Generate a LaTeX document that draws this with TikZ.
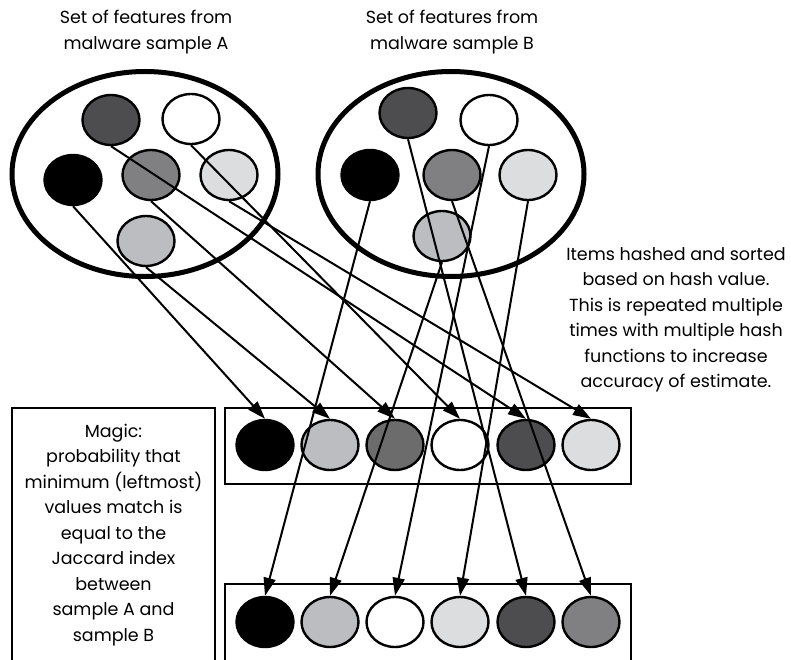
\documentclass[tikz,border=0pt]{standalone}
\usepackage{fontspec}
\setmainfont{Poppins}
\definecolor{darkgrey}{HTML}{4D4D4F}
\definecolor{midgrey}{HTML}{808083}
\definecolor{midshade}{HTML}{6B6C6B}
\definecolor{silvergrey}{HTML}{BCBDC0}
\definecolor{lightgrey}{HTML}{DCDDDF}
\usetikzlibrary{arrows.meta, shapes.geometric}

\begin{document}
\begin{tikzpicture}[x=1pt, y=-1pt, >={Triangle[length=18pt, width=12pt]},
  sample/.style={draw, ellipse, line width=5pt, inner sep=0pt, minimum width=266pt, minimum height=205pt},
  feature/.style={draw, ellipse, line width=2.4pt, inner sep=0pt, minimum width=57pt, minimum height=50pt},
  hashrow/.style={draw, line width=2.4pt, inner sep=0pt},
  note/.style={align=center, inner sep=0pt, font=\fontsize{17.5}{25.5}\selectfont},
  hashline/.style={->, line width=2pt}]
  \useasboundingbox (0,0) rectangle (791,660);
  \clip (0,0) rectangle (791,660);

  % the two feature sets
  \node[sample] (setA) at (145,174) {};
  \node[sample] (setB) at (451,174) {};
  \node[note] (capA) at (146,32) {Set of features from\\malware sample A};
  \node[note] (capB) at (452,32) {Set of features from\\malware sample B};

  \node[feature, fill=darkgrey] (aDark) at (111,120) {};
  \node[feature, fill=white] (aWhite) at (191,119) {};
  \node[feature, fill=black] (aBlack) at (73,180) {};
  \node[feature, fill=midgrey] (aMid) at (151,175) {};
  \node[feature, fill=lightgrey] (aLight) at (229,175) {};
  \node[feature, fill=silvergrey] (aSilver) at (146,241) {};

  \node[feature, fill=darkgrey] (bDark) at (408,113) {};
  \node[feature, fill=white] (bWhite) at (489,120) {};
  \node[feature, fill=black] (bBlack) at (370,175) {};
  \node[feature, fill=midgrey] (bMid) at (452,175) {};
  \node[feature, fill=lightgrey] (bLight) at (528,175) {};
  \node[feature, fill=silvergrey] (bSilver) at (442,236) {};

  % sorted hash rows
  \node[hashrow, minimum width=406pt, minimum height=76pt] (rowA) at (428,446) {};
  \node[feature, fill=black] (hA1) at (265,445) {};
  \node[feature, fill=silvergrey] (hA2) at (330,445) {};
  \node[feature, fill=midshade] (hA3) at (395,445) {};
  \node[feature, fill=white] (hA4) at (460,445) {};
  \node[feature, fill=darkgrey] (hA5) at (526,445) {};
  \node[feature, fill=lightgrey] (hA6) at (591,445) {};

  \node[hashrow, minimum width=406pt, minimum height=116pt] (rowB) at (428,642) {};
  \node[feature, fill=black] (hB1) at (265,622) {};
  \node[feature, fill=silvergrey] (hB2) at (330,622) {};
  \node[feature, fill=white] (hB3) at (395,622) {};
  \node[feature, fill=lightgrey] (hB4) at (460,622) {};
  \node[feature, fill=darkgrey] (hB5) at (526,622) {};
  \node[feature, fill=midgrey] (hB6) at (591,622) {};

  \draw[hashline] (aBlack.south) -- (hA1.north);
  \draw[hashline] (aSilver.south) -- (hA2.north);
  \draw[hashline] (aMid.south) -- (hA3.north);
  \draw[hashline] (aWhite.south) -- (hA4.north);
  \draw[hashline] (aDark.south) -- (hA5.north);
  \draw[hashline] (aLight.south) -- (hA6.north);

  \draw[hashline] (bBlack.south) -- (hB1.north);
  \draw[hashline] (bSilver.south) -- (hB2.north);
  \draw[hashline] (bWhite.south) -- (hB3.north);
  \draw[hashline] (bLight.south) -- (hB4.north);
  \draw[hashline] (bDark.south) -- (hB5.north);
  \draw[hashline] (bMid.south) -- (hB6.north);

  \node[note] (hashNote) at (676,320) {Items hashed and sorted\\based on hash value.\\This is repeated multiple\\times with multiple hash\\functions to increase\\accuracy of estimate.};

  % explanation box
  \node[hashrow, minimum width=203pt, minimum height=292pt] (magicBox) at (113.5,554) {};
  \node[note] (magic) at (113.5,535) {Magic:\\probability that\\minimum (leftmost)\\values match is\\equal to the\\Jaccard index\\between\\sample A and\\sample B};
\end{tikzpicture}
\end{document}
